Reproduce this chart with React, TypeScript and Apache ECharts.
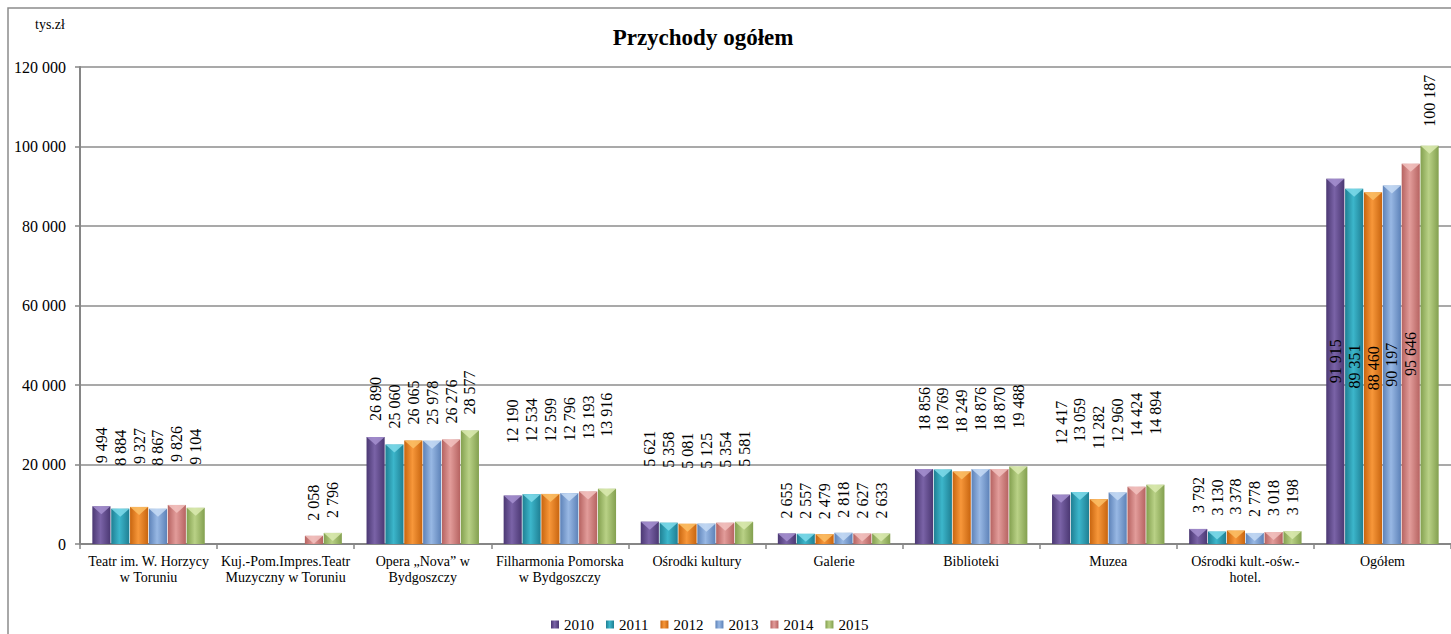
import React, { useEffect, useRef } from "react";
import * as echarts from "echarts";

const CATEGORIES = [
  "Teatr im. W. Horzycy\nw Toruniu",
  "Kuj.-Pom.Impres.Teatr\nMuzyczny w Toruniu",
  "Opera „Nova” w\nBydgoszczy",
  "Filharmonia Pomorska\nw Bydgoszczy",
  "Ośrodki kultury",
  "Galerie",
  "Biblioteki",
  "Muzea",
  "Ośrodki kult.-ośw.-\nhotel.",
  "Ogółem",
];

const YEARS = ["2010", "2011", "2012", "2013", "2014", "2015"];

const V2010 = [9494, null, 26890, 12190, 5621, 2655, 18856, 12417, 3792, 91915];
const V2011 = [8884, null, 25060, 12534, 5358, 2557, 18769, 13059, 3130, 89351];
const V2012 = [9327, null, 26065, 12599, 5081, 2479, 18249, 11282, 3378, 88460];
const V2013 = [8867, null, 25978, 12796, 5125, 2818, 18876, 12960, 2778, 90197];
const V2014 = [9826, 2058, 26276, 13193, 5354, 2627, 18870, 14424, 3018, 95646];
const V2015 = [9104, 2796, 28577, 13916, 5581, 2633, 19488, 14894, 3198, 100187];

const SERIES_VALUES = [V2010, V2011, V2012, V2013, V2014, V2015];

const Y_MIN = 0;
const Y_MAX = 120000;
const Y_STEP = 20000;

// styling
const BASE = ["#5f4a8b", "#2a9db3", "#ee7f1c", "#7a9fd4", "#d4817f", "#a0bd6a"];
const EDGE = ["#4b3873", "#1f7f93", "#c8650f", "#5d82b8", "#b66361", "#83a04f"];
const MID = ["#7a63a7", "#3cb6cb", "#f7973a", "#98b8e4", "#e29c9a", "#b9d186"];
const TOP = ["#a690d0", "#7fdaea", "#fbc066", "#c5dbf5", "#f2c2c0", "#dbeab0"];
const LABEL_LIFT = [43, 15, 16, 52, 55, 15, 38, 50, 16, 19];

const FONT = "Liberation Serif";

function fmt(v: number): string {
  return String(v).replace(/\B(?=(\d{3})+(?!\d))/g, " ");
}

export default function App() {
  const ref = useRef<HTMLDivElement>(null);

  useEffect(() => {
    if (!ref.current) return;
    const chart = echarts.init(ref.current, undefined, { renderer: "svg" });

    const barSeries = SERIES_VALUES.map((vals, s) => ({
      type: "bar",
      name: YEARS[s],
      barGap: "4%",
      barCategoryGap: "18%",
      z: 2,
      itemStyle: {
        color: new echarts.graphic.LinearGradient(0, 0, 1, 0, [
          { offset: 0, color: EDGE[s] },
          { offset: 0.45, color: MID[s] },
          { offset: 1, color: EDGE[s] },
        ]),
      },
      label: {
        show: true,
        rotate: 90,
        position: "top",
        align: "left",
        verticalAlign: "middle",
        fontFamily: FONT,
        fontSize: 16,
        color: "#000",
        formatter: (p: any) => fmt(p.value),
      },
      data: vals.map((v, i) => {
        if (v == null) return null;
        if (i === CATEGORIES.length - 1 && s < 5) {
          return {
            value: v,
            label: { position: "inside", align: "center", verticalAlign: "middle" },
          };
        }
        return { value: v, label: { distance: LABEL_LIFT[i] } };
      }),
    }));

    const topSeries = SERIES_VALUES.map((vals, s) => ({
      type: "pictorialBar",
      name: "top" + YEARS[s],
      barGap: "4%",
      barCategoryGap: "18%",
      symbol: "path://M0,0 L10,0 L5,4 Z",
      symbolSize: ["100%", 8],
      symbolPosition: "end",
      silent: true,
      z: 3,
      itemStyle: { color: TOP[s], opacity: 0.85 },
      data: vals,
    }));

    chart.setOption({
      animation: false,
      color: BASE,
      textStyle: { fontFamily: FONT },
      grid: { left: 80, right: -9, top: 67, bottom: 90, containLabel: false },
      legend: {
        data: YEARS,
        left: 546,
        top: 612,
        icon: "rect",
        itemWidth: 8,
        itemHeight: 8,
        itemGap: 12,
        textStyle: { fontFamily: FONT, fontSize: 15, lineHeight: 15, color: "#000" },
      },
      graphic: [
        {
          type: "rect",
          shape: { x: 8, y: 8, width: 1600, height: 800 },
          style: { fill: "none", stroke: "#8c8c8c", lineWidth: 1.5 },
          silent: true,
          z: -1,
        },
        {
          type: "text",
          x: 35,
          y: 24,
          style: {
            text: "tys.zł",
            fontFamily: FONT,
            fontSize: 14,
            fill: "#000",
            textVerticalAlign: "middle",
          },
        },
        {
          type: "text",
          x: 703,
          y: 37,
          style: {
            text: "Przychody ogółem",
            fontFamily: FONT,
            fontSize: 23,
            fontWeight: "bold",
            fill: "#000",
            textAlign: "center",
            textVerticalAlign: "middle",
          },
        },
      ],
      xAxis: {
        type: "category",
        data: CATEGORIES,
        axisLine: { show: true, lineStyle: { color: "#868686", width: 2 } },
        axisTick: { show: true, length: 5, lineStyle: { color: "#868686", width: 1.5 } },
        axisLabel: {
          interval: 0,
          margin: 9,
          fontFamily: FONT,
          fontSize: 14,
          lineHeight: 16,
          color: "#000",
        },
      },
      yAxis: {
        type: "value",
        min: Y_MIN,
        max: Y_MAX,
        interval: Y_STEP,
        axisLine: { show: true, lineStyle: { color: "#868686", width: 2 } },
        axisTick: { show: true, length: 5, lineStyle: { color: "#868686", width: 1.5 } },
        splitLine: { show: true, lineStyle: { color: "#8c8c8c", width: 1.5 } },
        axisLabel: {
          margin: 14,
          fontFamily: FONT,
          fontSize: 16,
          color: "#000",
          formatter: (v: number) => fmt(v),
        },
      },
      series: [...barSeries, ...topSeries],
    });

    return () => chart.dispose();
  }, []);

  return (
    <div
      ref={ref}
      style={{ position: "fixed", left: 0, top: 0, width: 1451, height: 634, background: "#fff" }}
    />
  );
}
